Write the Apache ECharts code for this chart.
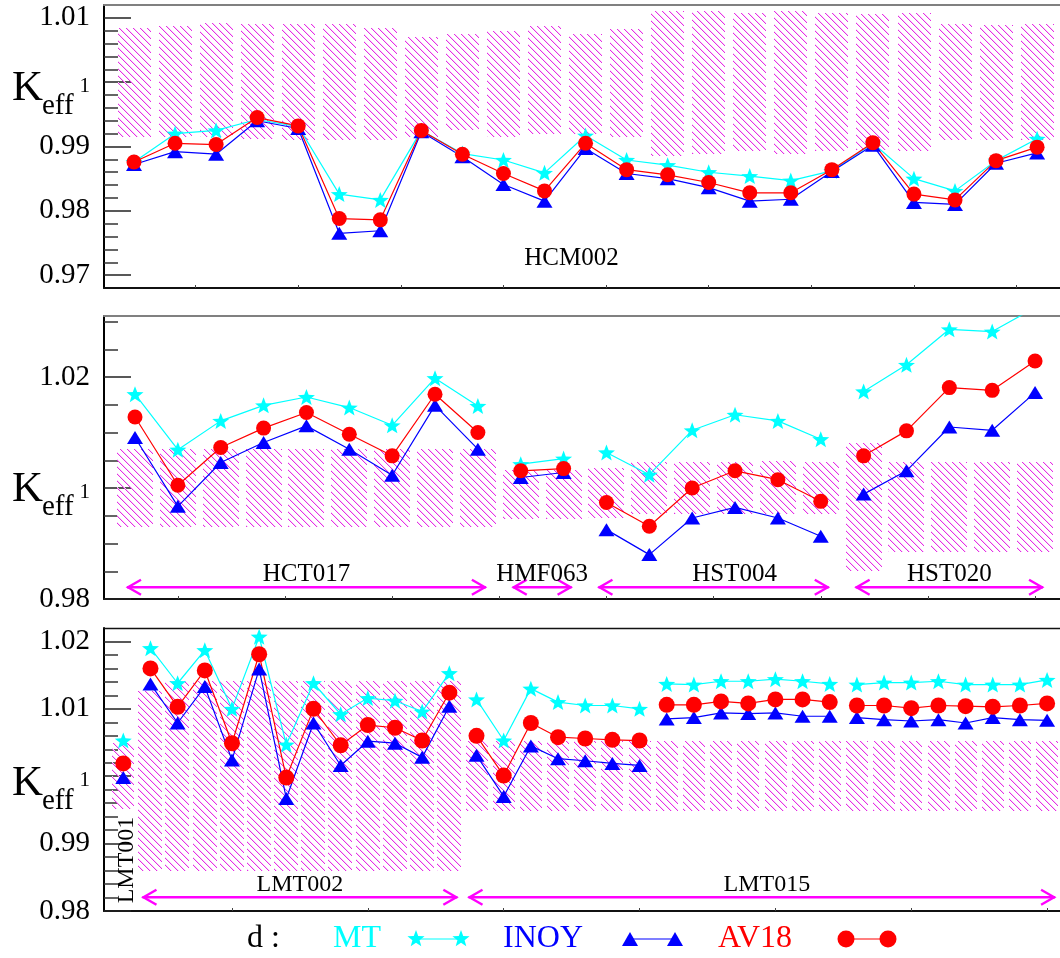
<!DOCTYPE html>
<html><head><meta charset="utf-8">
<script src="https://cdn.jsdelivr.net/npm/echarts@6/dist/echarts.min.js"></script>
<style>html,body{margin:0;padding:0;background:#fff}#c{width:1060px;height:958px}</style>
</head><body><div id="c"></div>
<script>
// ================= DATA =================
// Panel 1 : HCM002 (23 cases)
const hcmMT   = [0.9876,0.9920,0.9925,0.9942,0.9931,0.9826,0.9817,0.9925,0.9889,0.9879,0.9859,0.9917,0.9879,0.9871,0.9860,0.9854,0.9847,0.9862,0.9905,0.9850,0.9831,0.9878,0.9912];
const hcmINOY = [0.9872,0.9892,0.9888,0.9940,0.9928,0.9765,0.9769,0.9923,0.9884,0.9841,0.9815,0.9897,0.9858,0.9850,0.9836,0.9815,0.9818,0.9861,0.9902,0.9813,0.9810,0.9874,0.9890];
const hcmAV18 = [0.9876,0.9905,0.9903,0.9945,0.9932,0.9788,0.9786,0.9925,0.9888,0.9858,0.9831,0.9905,0.9864,0.9856,0.9844,0.9828,0.9828,0.9864,0.9906,0.9826,0.9817,0.9878,0.9899];
const hcmExpHigh = [1.0084,1.0088,1.0092,1.0091,1.0091,1.0091,1.0084,1.0070,1.0075,1.0080,1.0088,1.0075,1.0083,1.0111,1.0111,1.0107,1.0111,1.0107,1.0106,1.0107,1.0091,1.0089,1.0091];
const hcmExpLow  = [0.9915,0.9915,0.9915,0.9912,0.9910,0.9910,0.9910,0.9915,0.9925,0.9915,0.9920,0.9920,0.9915,0.9886,0.9889,0.9892,0.9888,0.9892,0.9894,0.9892,0.9910,0.9910,0.9910];
const p1Groups = ['HCM002'];
const p1GroupFirst = [0];
const p1GroupLast = [22];
const p1Segments = [0];

// Panel 2 : HCT017, HMF063, HST004, HST020 (22 cases)
const hxMT   = [1.0169,1.0069,1.0121,1.0149,1.0164,1.0145,1.0113,1.0198,1.0148, 1.0043,1.0053, 1.0064,1.0024,1.0104,1.0132,1.0121,1.0088, 1.0174,1.0222,1.0286,1.0282,1.0325];
const hxINOY = [1.0091,0.9967,1.0046,1.0082,1.0112,1.0070,1.0023,1.0149,1.0070, 1.0019,1.0028, 0.9925,0.9880,0.9946,0.9965,0.9946,0.9913, 0.9989,1.0031,1.0110,1.0104,1.0172];
const hxAV18 = [1.0128,1.0005,1.0073,1.0108,1.0136,1.0097,1.0058,1.0169,1.0100, 1.0031,1.0035, 0.9974,0.9931,1.0000,1.0031,1.0015,0.9976, 1.0058,1.0103,1.0181,1.0176,1.0229];
const hxExpHigh = [1.0070,1.0070,1.0070,1.0070,1.0070,1.0070,1.0070,1.0070,1.0070, 1.0032,1.0032, 1.0036,1.0046,1.0046,1.0046,1.0048,1.0046, 1.0082,1.0046,1.0046,1.0046,1.0046];
const hxExpLow  = [0.9930,0.9930,0.9930,0.9930,0.9930,0.9930,0.9930,0.9930,0.9930, 0.9944,0.9944, 0.9946,0.9953,0.9953,0.9953,0.9953,0.9953, 0.9851,0.9883,0.9883,0.9883,0.9883];
const p2Groups = ['HCT017','HMF063','HST004','HST020'];
const p2GroupFirst = [0, 9, 11, 17];
const p2GroupLast = [8, 10, 16, 21];
const p2Segments = [0, 9, 11, 17];

// Panel 3 : LMT001, LMT002, LMT015 (35 cases)
const lmtMT   = [1.0053, 1.0190,1.0138,1.0187,1.0100,1.0207,1.0047,1.0138,1.0092,1.0116,1.0112,1.0096,1.0153, 1.0114,1.0053,1.0130,1.0110,1.0105,1.0105,1.0100, 1.0137,1.0136,1.0141,1.0141,1.0144,1.0141,1.0137, 1.0136,1.0139,1.0139,1.0141,1.0136,1.0136,1.0136,1.0143];
const lmtINOY = [0.9998, 1.0137,1.0079,1.0133,1.0024,1.0159,0.9967,1.0079,1.0016,1.0052,1.0049,1.0028,1.0104, 1.0031,0.9970,1.0045,1.0026,1.0023,1.0019,1.0016, 1.0085,1.0087,1.0094,1.0093,1.0094,1.0089,1.0089, 1.0087,1.0084,1.0082,1.0084,1.0079,1.0087,1.0084,1.0083];
const lmtAV18 = [1.0019, 1.0160,1.0103,1.0157,1.0049,1.0181,0.9998,1.0100,1.0046,1.0076,1.0072,1.0053,1.0124, 1.0060,1.0001,1.0079,1.0058,1.0056,1.0054,1.0053, 1.0106,1.0106,1.0111,1.0108,1.0114,1.0114,1.0110, 1.0105,1.0105,1.0101,1.0105,1.0104,1.0103,1.0105,1.0108];
const lmtExpHigh = [1.0049, 1.0126,1.0141,1.0141,1.0141,1.0141,1.0141,1.0141,1.0141,1.0141,1.0141,1.0141,1.0141,
  1.0052,1.0052,1.0052,1.0052,1.0052,1.0052,1.0052,1.0052,1.0052,1.0052,1.0052,1.0052,1.0052,1.0052,1.0052,1.0052,1.0052,1.0052,1.0052,1.0052,1.0052,1.0052];
const lmtExpLow  = [0.9951, 0.9859,0.9859,0.9859,0.9859,0.9859,0.9859,0.9859,0.9859,0.9859,0.9859,0.9859,0.9859,
  0.9948,0.9948,0.9948,0.9948,0.9948,0.9948,0.9948,0.9948,0.9948,0.9948,0.9948,0.9948,0.9948,0.9948,0.9948,0.9948,0.9948,0.9948,0.9948,0.9948,0.9948,0.9948];
const p3Groups = ['LMT001','LMT002','LMT015'];
const p3GroupFirst = [0, 1, 13];
const p3GroupLast = [0, 12, 34];
const p3Segments = [0, 1, 13, 20, 27];

// Axis ticks
const p1YTicks = [0.97, 0.98, 0.99, 1, 1.01];
const p2YTicks = [0.98, 1, 1.02];
const p3YTicks = [0.98, 0.99, 1, 1.01, 1.02];
const p1XTicks = [2.5,5,7.5,10,12.5,15,17.5,20,22.5];
const p2XTicks = [2,4.5,7,9.5,12,14.5,17,19.5,22];
const p3XTicks = [5,10,15,20,25,30,35];
const legendNames = ['MT','INOY','AV18'];

// ================= STYLE / RENDER =================
const FONT = 'Liberation Serif';
const C_MT = '#00ffff', C_INOY = '#0000ff', C_AV = '#ff0000', MAG = '#ff00ff';

// crisp "\" hatch tile
const HS = 7;
const hc = document.createElement('canvas');
hc.width = HS; hc.height = HS;
(function(){
  const g = hc.getContext('2d');
  for (let k = 0; k < HS; k++) {
    g.fillStyle = '#e52ee5'; g.fillRect(k, k, 1, 1);
    g.fillStyle = '#fad2fa'; g.fillRect((k + 1) % HS, k, 1, 1);
  }
})();
const hatch = { image: hc, repeat: 'repeat' };

function starPoints(cx, cy, R, ratio) {
  const pts = [];
  for (let k = 0; k < 10; k++) {
    const r = k % 2 === 0 ? R : R * ratio;
    const a = -Math.PI / 2 + k * Math.PI / 5;
    pts.push([cx + r * Math.cos(a), cy + r * Math.sin(a)]);
  }
  return pts;
}
const starSymbol = 'path://' + starPoints(0, 0, 10, 0.42).map((p, k) => (k ? 'L' : 'M') + p[0].toFixed(3) + ' ' + p[1].toFixed(3)).join(' ') + ' Z';

const grids = [
  { left: 104, right: 0, top: 5, height: 283 },
  { left: 104, right: 0, top: 316, height: 283 },
  { left: 104, right: 0, top: 628, height: 283 }
];

function xAxesFor(gi, min, max, ticks, topColor, topWidth) {
  return [
    { gridIndex: gi, type: 'value', min, max, position: 'bottom',
      axisLine: { show: true, onZero: false, lineStyle: { color: '#111', width: 2 } },
      axisTick: { show: true, inside: true, length: 3, customValues: ticks, lineStyle: { color: '#444', width: 1 } },
      axisLabel: { show: false }, splitLine: { show: false } },
    { gridIndex: gi, type: 'value', min, max, position: 'top',
      axisLine: { show: true, onZero: false, lineStyle: { color: topColor, width: topWidth } },
      axisTick: { show: false }, axisLabel: { show: false }, splitLine: { show: false } }
  ];
}
function yFmt(v) { return Math.abs(v - 1) < 1e-9 ? '{s|1}' : String(+(+v).toFixed(4)); }
function yAxisFor(gi, min, max, interval, majors, minorSplit) {
  const ax = { gridIndex: gi, type: 'value', min, max, splitNumber: 5,
    axisLine: { show: true, onZero: false, lineStyle: { color: '#000', width: 2 } },
    axisTick: { show: true, inside: true, length: 27, customValues: majors, lineStyle: { color: '#222', width: 1.5 } },
    minorTick: { show: true, splitNumber: minorSplit, length: 14, lineStyle: { color: '#333', width: 1.5 } },
    axisLabel: { show: true, customValues: majors, margin: 14, color: '#000', fontFamily: FONT, fontSize: 29,
      formatter: yFmt, rich: { s: { fontFamily: FONT, fontSize: 21, color: '#000', padding: [8, 0, 0, 0] } } },
    splitLine: { show: false }, minorSplitLine: { show: false } };
  if (interval) ax.interval = interval;
  return ax;
}

function lineSeries(name, vals, segStarts, gi, color, symbol, size) {
  const data = [];
  vals.forEach((v, i) => {
    if (i > 0 && segStarts.indexOf(i) >= 0) data.push([i + 0.5, null]);
    data.push([i + 1, v]);
  });
  return { type: 'line', name, xAxisIndex: gi * 2, yAxisIndex: gi, data, symbol, symbolSize: size,
    showAllSymbol: true, connectNulls: false, clip: true, z: 3,
    lineStyle: { color, width: 1.2 }, itemStyle: { color, opacity: 1 }, emphasis: { disabled: true } };
}

function boxSeries(lows, highs, gi, fracFn) {
  return { type: 'custom', xAxisIndex: gi * 2, yAxisIndex: gi, z: 1, silent: true,
    data: lows.map((lo, i) => [i + 1, lo, highs[i]]),
    renderItem: function (params, api) {
      const x = api.value(0), lo = api.value(1), hi = api.value(2);
      const bw = api.size([1, 0])[0] * fracFn(params.dataIndex);
      const pt = api.coord([x, hi]), pb = api.coord([x, lo]);
      return { type: 'rect', shape: { x: Math.round(pt[0] - bw / 2), y: Math.round(pt[1]), width: Math.round(bw), height: Math.round(pb[1] - pt[1]) },
        style: { fill: hatch, stroke: null } };
    } };
}

const groupStyle = {
  HCM002: { arrow: false, shift: -14 },
  LMT001: { vertical: true },
  HST004: { shift: 21 },
  LMT015: { shift: 5 }
};
function groupSeries(gi, names, first, last, yMin, arrowOff, textOff, fontSize) {
  return { type: 'custom', xAxisIndex: gi * 2, yAxisIndex: gi, z: 4, silent: true,
    data: names.map((n, i) => [first[i] + 1, last[i] + 1]),
    renderItem: function (params, api) {
      const name = names[params.dataIndex];
      const st = groupStyle[name] || {};
      const cs = params.coordSys;
      const yb = cs.y + cs.height;
      const x1 = api.coord([api.value(0), yMin])[0] - 8;
      const x2 = api.coord([api.value(1), yMin])[0] + 8;
      const ch = [];
      if (st.vertical) {
        ch.push({ type: 'text', x: (x1 + x2) / 2 + 3, y: yb - 51, rotation: Math.PI / 2,
          style: { text: name, fontFamily: FONT, fontSize: 24, fill: '#000', align: 'center', verticalAlign: 'middle' } });
      } else {
        if (st.arrow !== false) {
          const y = yb - arrowOff, hl = 14, hh = 7.5;
          const ls = { stroke: MAG, lineWidth: 2.4, fill: null };
          ch.push({ type: 'line', shape: { x1: x1, y1: y, x2: x2, y2: y }, style: ls });
          ch.push({ type: 'polyline', shape: { points: [[x1 + hl, y - hh], [x1 + 1, y], [x1 + hl, y + hh]] }, style: ls });
          ch.push({ type: 'polyline', shape: { points: [[x2 - hl, y - hh], [x2 - 1, y], [x2 - hl, y + hh]] }, style: ls });
        }
        ch.push({ type: 'text', x: (x1 + x2) / 2 + (st.shift || 0), y: yb - textOff,
          style: { text: name, fontFamily: FONT, fontSize: fontSize, fill: '#000', align: 'center', verticalAlign: 'middle' } });
      }
      return { type: 'group', children: ch };
    } };
}

const chart = echarts.init(document.getElementById('c'), null, { renderer: 'canvas' });

const xAxes = [].concat(
  xAxesFor(0, 0.2692, 23.558, p1XTicks, '#808080', 2.2),
  xAxesFor(1, 0.2767, 22.582, p2XTicks, '#808080', 2.2),
  xAxesFor(2, 0.2897, 35.475, p3XTicks, '#111', 1.4)
);
const yAxes = [
  yAxisFor(0, 0.968, 1.012, null, p1YTicks, 5),
  yAxisFor(1, 0.98, 1.031, 0.02, p2YTicks, 4),
  yAxisFor(2, 0.98, 1.022, 0.01, p3YTicks, 5)
];

const series = [
  boxSeries(hcmExpLow, hcmExpHigh, 0, () => 0.8),
  boxSeries(hxExpLow, hxExpHigh, 1, () => 0.84),
  boxSeries(lmtExpLow, lmtExpHigh, 2, (i) => (i >= 1 && i <= 12) ? 0.9 : 0.8),
  lineSeries('MT', hcmMT, p1Segments, 0, C_MT, starSymbol, [17, 16]),
  lineSeries('INOY', hcmINOY, p1Segments, 0, C_INOY, 'triangle', [16, 13]),
  lineSeries('AV18', hcmAV18, p1Segments, 0, C_AV, 'circle', 15),
  lineSeries('MT', hxMT, p2Segments, 1, C_MT, starSymbol, [17, 16]),
  lineSeries('INOY', hxINOY, p2Segments, 1, C_INOY, 'triangle', [16, 13]),
  lineSeries('AV18', hxAV18, p2Segments, 1, C_AV, 'circle', 15),
  lineSeries('MT', lmtMT, p3Segments, 2, C_MT, starSymbol, [17, 16]),
  lineSeries('INOY', lmtINOY, p3Segments, 2, C_INOY, 'triangle', [16, 13]),
  lineSeries('AV18', lmtAV18, p3Segments, 2, C_AV, 'circle', 16),
  groupSeries(0, p1Groups, p1GroupFirst, p1GroupLast, 0.968, 0, 29.5, 25),
  groupSeries(1, p2Groups, p2GroupFirst, p2GroupLast, 0.98, 11.7, 24.5, 25),
  groupSeries(2, p3Groups, p3GroupFirst, p3GroupLast, 0.98, 13.7, 26, 24)
];

// Keff titles + legend (decorations)
const graphics = [];
[[89, 106], [490, 507], [784, 801]].forEach(([yk, ye]) => {
  graphics.push({ type: 'text', x: 12, y: yk, style: { text: 'K', fontFamily: FONT, fontSize: 43, fill: '#000', align: 'left', verticalAlign: 'middle' } });
  graphics.push({ type: 'text', x: 42, y: ye, style: { text: 'eff', fontFamily: FONT, fontSize: 29, fill: '#000', align: 'left', verticalAlign: 'middle' } });
});
const LY = 939;
graphics.push({ type: 'text', x: 247, y: LY, style: { text: 'd :', fontFamily: FONT, fontSize: 32, fill: '#000', align: 'left', verticalAlign: 'middle' } });
graphics.push({ type: 'text', x: 333, y: LY, style: { text: legendNames[0], fontFamily: FONT, fontSize: 32, fill: C_MT, align: 'left', verticalAlign: 'middle' } });
graphics.push({ type: 'line', shape: { x1: 416, y1: LY, x2: 461, y2: LY }, style: { stroke: C_MT, lineWidth: 1.2 } });
graphics.push({ type: 'polygon', shape: { points: starPoints(416, LY, 9, 0.42) }, style: { fill: C_MT } });
graphics.push({ type: 'polygon', shape: { points: starPoints(461, LY, 9, 0.42) }, style: { fill: C_MT } });
graphics.push({ type: 'text', x: 503, y: LY, style: { text: legendNames[1], fontFamily: FONT, fontSize: 32, fill: C_INOY, align: 'left', verticalAlign: 'middle' } });
graphics.push({ type: 'line', shape: { x1: 630, y1: LY, x2: 675, y2: LY }, style: { stroke: C_INOY, lineWidth: 1.2 } });
[630, 675].forEach(cx => graphics.push({ type: 'polygon', shape: { points: [[cx, LY - 7], [cx - 8, LY + 7], [cx + 8, LY + 7]] }, style: { fill: C_INOY } }));
graphics.push({ type: 'text', x: 718, y: LY, style: { text: legendNames[2], fontFamily: FONT, fontSize: 32, fill: C_AV, align: 'left', verticalAlign: 'middle' } });
graphics.push({ type: 'line', shape: { x1: 846, y1: LY, x2: 888, y2: LY }, style: { stroke: C_AV, lineWidth: 1.2 } });
[846, 888].forEach(cx => graphics.push({ type: 'circle', shape: { cx, cy: LY, r: 8.5 }, style: { fill: C_AV } }));

chart.setOption({
  animation: false,
  backgroundColor: '#fff',
  textStyle: { fontFamily: FONT },
  grid: grids,
  xAxis: xAxes,
  yAxis: yAxes,
  series: series,
  graphic: graphics
});
</script>
</body></html>
